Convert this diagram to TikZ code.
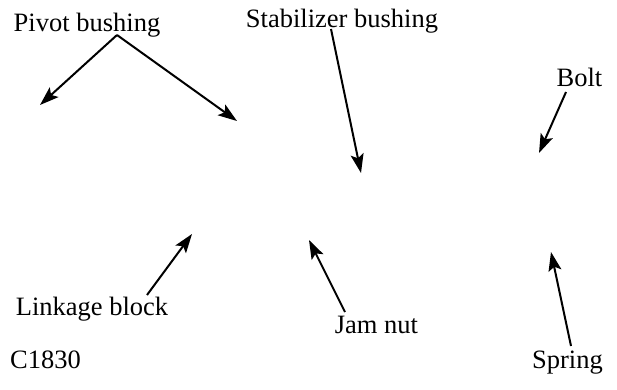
\documentclass[tikz,border=0pt]{standalone}
\usepackage{fontspec}
\setmainfont{Liberation Serif}
\usepackage{xcolor}
\usetikzlibrary{arrows.meta}
\tikzset{
  plabel/.style={inner sep=0pt, anchor=base, font=\fontsize{26.5}{30}\selectfont},
  parrow/.style={-{Stealth[length=19pt, width=13pt, inset=4pt]}, line width=2pt, black},
}

\begin{document}
\begin{tikzpicture}[x=1pt, y=-1pt]
  \useasboundingbox (0,0) rectangle (617,389);
  % labels
  \node[plabel] (pivot) at (87,31.5) {Pivot bushing};
  \node[plabel] (stab) at (342,27) {Stabilizer bushing};
  \node[plabel] (bolt) at (579.5,86) {Bolt};
  \node[plabel] (linkage) at (92,315) {Linkage block};
  \node[plabel] (jamnut) at (376.5,333) {Jam nut};
  \node[plabel] (spring) at (567.5,368) {Spring};
  \node[plabel] (fig) at (45.5,368) {C1830};
  % leader feet and tips
  \coordinate (pivotfoot) at (117,35);
  \coordinate (pivotL) at (40,105);
  \coordinate (pivotR) at (237,121);
  \coordinate (stabfoot) at (331,29);
  \coordinate (stabtip) at (361,173);
  \coordinate (boltfoot) at (566,92);
  \coordinate (bolttip) at (539,153);
  \coordinate (linkfoot) at (147,295);
  \coordinate (linktip) at (192,234);
  \coordinate (jamfoot) at (345,312);
  \coordinate (jamtip) at (309,240);
  \coordinate (springfoot) at (571,346);
  \coordinate (springtip) at (551,252);
  % arrows
  \draw[parrow] (pivotfoot) -- (pivotL);
  \draw[parrow] (pivotfoot) -- (pivotR);
  \draw[parrow] (stabfoot) -- (stabtip);
  \draw[parrow] (boltfoot) -- (bolttip);
  \draw[parrow] (linkfoot) -- (linktip);
  \draw[parrow] (jamfoot) -- (jamtip);
  \draw[parrow] (springfoot) -- (springtip);
\end{tikzpicture}
\end{document}
